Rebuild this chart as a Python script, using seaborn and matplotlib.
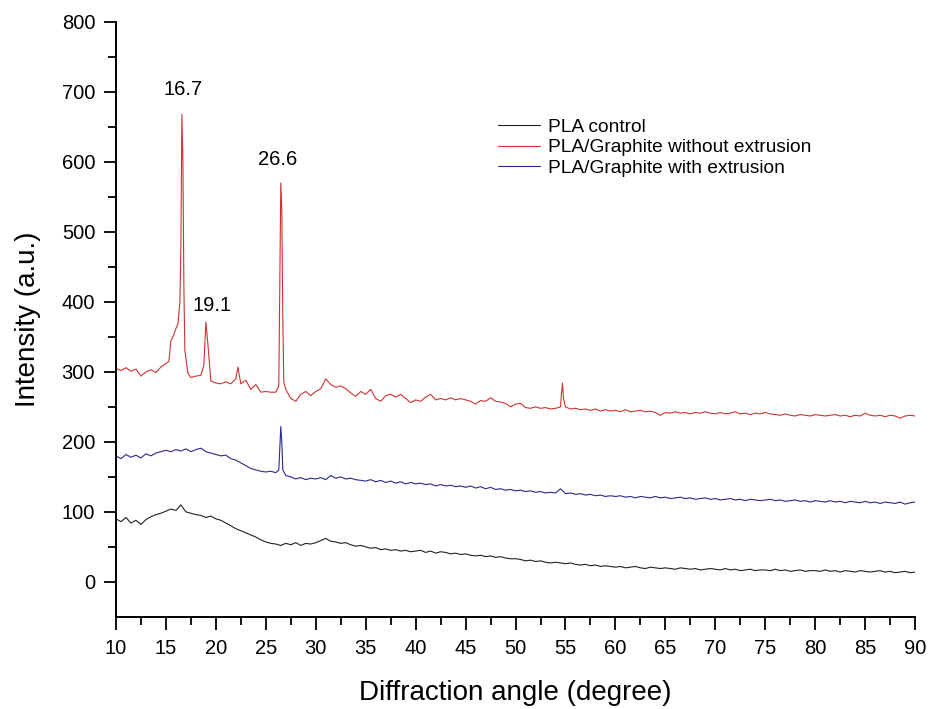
import numpy as np
import pandas as pd
import matplotlib
matplotlib.use("Agg")
import matplotlib.pyplot as plt
from matplotlib.lines import Line2D
import seaborn as sns

# ---------------- data ----------------
series_names = ["PLA control", "PLA/Graphite without extrusion", "PLA/Graphite with extrusion"]
series_colors = ["#222222", "#cc3333", "#2a2a8c"]

# base scan: 10..90 deg every 0.5 deg
base_angle = np.arange(10.0, 90.01, 0.5)

control_base = [
    90, 86, 92, 84, 88, 82, 89, 93, 96, 98,
    101, 104, 102, 110, 100, 98, 96, 95, 92, 94,
    90, 88, 84, 80, 76, 73, 70, 67, 64, 60,
    57, 55, 54, 52, 55, 53, 56, 52, 55, 54,
    56, 59, 62, 58, 57, 55, 56, 53, 51, 52,
    50, 48, 49, 46, 47, 45, 46, 44, 45, 43,
    44, 45, 42, 44, 41, 43, 42, 40, 41, 39,
    40, 38, 37, 38, 36, 37, 35, 36, 34, 33,
    33, 32, 30, 31, 29, 30, 28, 27, 28, 27,
    26, 27, 25, 24, 25, 23, 24, 22, 23, 22,
    21, 22, 20, 21, 22, 20, 19, 21, 20, 19,
    20, 19, 18, 20, 19, 18, 19, 17, 18, 19,
    18, 17, 19, 17, 18, 16, 17, 18, 16, 17,
    17, 16, 18, 16, 17, 15, 16, 17, 15, 16,
    16, 15, 17, 15, 16, 14, 16, 15, 14, 16,
    15, 14, 15, 16, 14, 15, 13, 14, 15, 13,
    14,
]

without_base = [
    305, 302, 306, 301, 304, 294, 300, 303, 299, 307,
    312, 345, 362, 480, 320, 292, 294, 295, 371, 287,
    284, 283, 286, 283, 290, 283, 288, 275, 282, 271,
    272, 271, 271, 570, 275, 262, 258, 268, 272, 266,
    272, 276, 290, 282, 278, 280, 276, 270, 265, 272,
    268, 275, 262, 258, 266, 268, 264, 268, 262, 256,
    260, 258, 264, 268, 260, 262, 260, 263, 260, 262,
    260, 258, 254, 259, 258, 263, 258, 257, 255, 250,
    254, 255, 249, 248, 250, 248, 249, 247, 248, 250,
    250, 247, 248, 246, 247, 245, 247, 244, 246, 244,
    245, 243, 246, 243, 244, 245, 243, 244, 242, 238,
    242, 241, 243, 241, 242, 240, 242, 241, 243, 241,
    240, 242, 240, 241, 243, 240, 241, 239, 241, 240,
    242, 240, 239, 238, 240, 238, 237, 239, 238, 237,
    239, 238, 237, 238, 239, 237, 238, 236, 238, 237,
    241, 238, 237, 238, 236, 238, 237, 234, 237, 238,
    237,
]

with_base = [
    180, 176, 182, 178, 181, 177, 183, 180, 184, 186,
    188, 186, 189, 187, 190, 186, 189, 191, 186, 184,
    182, 180, 181, 176, 174, 170, 166, 162, 160, 158,
    157, 158, 156, 222, 152, 150, 147, 149, 146, 148,
    147, 149, 146, 152, 148, 150, 147, 148, 146, 145,
    144, 146, 143, 145, 142, 144, 141, 143, 140, 142,
    140, 141, 139, 140, 137, 139, 137, 138, 136, 137,
    135, 137, 134, 136, 133, 135, 132, 133, 131, 132,
    130, 131, 129, 130, 128, 129, 127, 128, 127, 133,
    126, 127, 125, 126, 124, 125, 123, 124, 122, 123,
    122, 123, 121, 122, 120, 122, 121, 120, 122, 120,
    121, 119, 120, 121, 119, 120, 118, 119, 120, 118,
    119, 117, 118, 119, 117, 118, 116, 118, 117, 116,
    117, 118, 116, 117, 115, 116, 117, 115, 116, 114,
    116, 115, 114, 116, 114, 115, 113, 115, 114, 113,
    115, 113, 114, 112, 114, 113, 112, 114, 111, 113,
    114,
]

# extra points resolving the sharp peaks
without_peak_angle = [15.3, 15.7, 16.2, 16.4, 16.6, 16.7, 16.8, 16.9, 17.2,
                      18.8, 19.2, 22.2, 26.3, 26.4, 26.6, 26.7, 26.8,
                      54.6, 54.7, 54.8]
without_peak_val = [315, 350, 368, 400, 668, 600, 420, 330, 298,
                    310, 340, 307, 280, 420, 530, 380, 285,
                    270, 284, 262]
with_peak_angle = [26.3, 26.4, 26.6, 26.7]
with_peak_val = [160, 190, 200, 160]

peak_labels = ["16.7", "19.1", "26.6"]
peak_label_x = [16.7, 19.6, 26.2]
peak_label_y = [703, 395, 603]

# ---------------- assemble ----------------
def build(name, base_vals, ex_a=(), ex_v=()):
    a = np.concatenate([base_angle, np.array(ex_a, dtype=float)])
    v = np.concatenate([np.array(base_vals, dtype=float), np.array(ex_v, dtype=float)])
    order = np.argsort(a, kind="stable")
    return pd.DataFrame({"angle": a[order], "intensity": v[order], "sample": name})

df = pd.concat([
    build(series_names[0], control_base),
    build(series_names[1], without_base, without_peak_angle, without_peak_val),
    build(series_names[2], with_base, with_peak_angle, with_peak_val),
], ignore_index=True)

# ---------------- plot ----------------
sns.set_style("ticks")
plt.rcParams["font.family"] = ["Liberation Sans", "DejaVu Sans"]
plt.rcParams["text.color"] = "black"
plt.rcParams["axes.labelcolor"] = "black"

fig = plt.figure(figsize=(9.3, 7.09), dpi=100)
ax = fig.add_axes([0.1247, 0.13, 0.8593, 0.839])

sns.lineplot(data=df, x="angle", y="intensity", hue="sample", hue_order=series_names,
             palette=series_colors, linewidth=0.8, sort=False, estimator=None,
             ax=ax, legend=False)

ax.set_xlim(10, 90)
ax.set_ylim(-50, 800)
ax.set_xticks(np.arange(10, 91, 5))
ax.set_xticks(np.arange(12.5, 90, 5), minor=True)
ax.set_yticks(np.arange(0, 801, 100))
ax.set_yticks(np.arange(50, 800, 100), minor=True)
ax.tick_params(axis="both", which="major", direction="out", length=9, width=1.3,
               labelsize=14.5, colors="black")
ax.tick_params(axis="both", which="minor", direction="out", length=5.5, width=1.3,
               colors="black")
ax.tick_params(axis="x", which="major", pad=7)
ax.tick_params(axis="y", which="major", pad=6)
for s in ["left", "bottom"]:
    ax.spines[s].set_linewidth(1.4)
    ax.spines[s].set_color("black")
sns.despine(ax=ax)

ax.set_xlabel("Diffraction angle (degree)", fontsize=20, labelpad=16, color="black")
ax.set_ylabel("Intensity (a.u.)", fontsize=20, labelpad=15, color="black")

for t, x, y in zip(peak_labels, peak_label_x, peak_label_y):
    ax.text(x, y, t, ha="center", va="center", fontsize=14.5, color="black")

handles = [Line2D([], [], color=c, linewidth=0.8) for c in series_colors]
leg = ax.legend(handles, series_names, loc="upper left", bbox_to_anchor=(0.478, 0.838),
                frameon=False, fontsize=13.8, handlelength=2.2, handletextpad=0.4,
                labelspacing=0.16, borderpad=0, borderaxespad=0)
for txt in leg.get_texts():
    txt.set_color("black")

fig.savefig("out.png", dpi=100)
